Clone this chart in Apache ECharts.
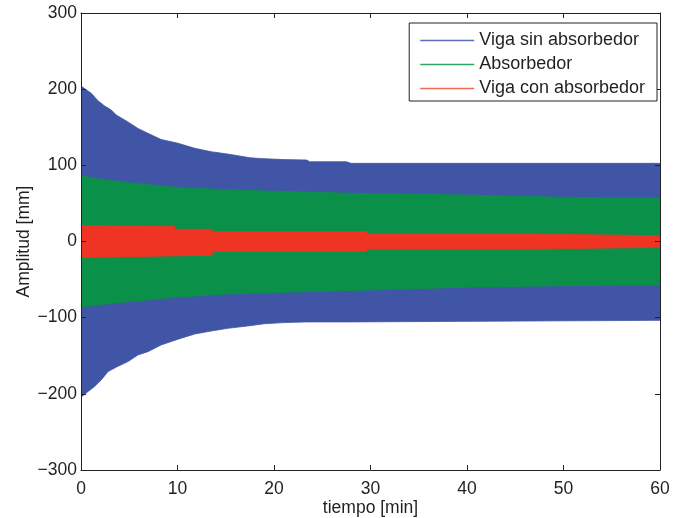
<!DOCTYPE html>
<html><head><meta charset="utf-8">
<script src="https://cdn.jsdelivr.net/npm/echarts@6/dist/echarts.min.js"></script>
<style>html,body{margin:0;padding:0;background:#fff}#c{width:676px;height:518px}</style>
</head><body><div id="c"></div>
<script>
const seriesNames = ['Viga sin absorbedor', 'Absorbedor', 'Viga con absorbedor'];
const xTicks = [0, 10, 20, 30, 40, 50, 60];
const yTicks = [-300, -200, -100, 0, 100, 200, 300];

// envelopes of the dense oscillations (time in min, amplitude in mm)
const blueUpperT = [0, 1.07, 1.76, 2.45, 3.14, 3.66, 4.87, 5.9, 6.94, 8.3, 10.05, 11.8, 13.5, 15.2, 17.5, 18.5, 21, 23.4, 23.7, 27.5, 28, 60];
const blueUpperV = [204, 194.5, 184.8, 177.8, 172.6, 166, 157, 148.5, 142, 134, 129, 122.3, 117.8, 114.8, 110, 109, 107.5, 107, 104.7, 104.7, 102.6, 102.6];
const blueLowerT = [0, 0.73, 1.4, 2.1, 2.8, 3.8, 4.87, 5.9, 6.94, 8.3, 10.05, 11.8, 13.5, 15.2, 17.5, 19, 21, 23.3, 27.8, 28, 60];
const blueLowerV = [-204.5, -197, -190.5, -181.8, -170.8, -164, -157.7, -149, -144.6, -135.8, -128.3, -121.4, -117.5, -114, -110.5, -108, -106.5, -105.6, -105.6, -103.5, -103.5];
const greenT = [0, 2, 5, 10, 15, 20, 29, 40, 50, 60];
const greenUpperV = [86, 82, 77, 71, 68, 66, 63, 61, 58, 57];
const greenLowerV = [-86, -83, -79, -73, -69, -67, -64, -60, -58, -57];
const redUpperT = [0, 9.7, 9.7, 13.6, 13.6, 29.6, 29.6, 46.5, 46.5, 60];
const redUpperV = [21, 20, 16, 16, 13, 13, 10, 10, 7.5, 7.5];
const redLowerT = [0, 4.5, 4.5, 13.6, 13.6, 29.6, 29.6, 46.5, 46.5, 60];
const redLowerV = [-21, -20, -18, -18, -13, -13, -10, -10, -7.7, -7.7];

const colors = ['#4055a5', '#0a9049', '#ef3423'];
const legendColors = ['#5a6fc0', '#2fa866', '#f26a5c'];
const zip = (t, v) => t.map((x, i) => [x, v[i]]);
const FONT = 'Liberation Sans, Arial, Helvetica, sans-serif';
const TXT = '#231f20';
const FS = 17.5;

function band(name, color, data) {
  return {
    name, type: 'line', data, symbol: 'none', showSymbol: false, silent: true,
    color,
    itemStyle: { color },
    lineStyle: { width: 0.8, color },
    areaStyle: { color, opacity: 1, origin: 0 },
    animation: false
  };
}

const chart = echarts.init(document.getElementById('c'), null, { renderer: 'canvas' });
const fmt = v => String(v).replace('-', '\u2212');
const axisLine = { show: true, onZero: false, lineStyle: { color: '#222', width: 1 } };
const tick = { show: true, inside: true, length: 5, lineStyle: { color: '#222' } };

chart.setOption({
  animation: false,
  backgroundColor: '#fff',
  grid: { left: 81, right: 16, top: 13, bottom: 48, containLabel: false, outerBoundsMode: 'none' },
  legend: {
    data: seriesNames.map((n, i) => ({
      name: n,
      icon: 'path://M0,0 L54,0 L54,1.4 L0,1.4 Z',
      itemStyle: { color: legendColors[i], borderColor: legendColors[i], borderWidth: 0 },
      lineStyle: { color: legendColors[i], width: 0 }
    })),
    orient: 'vertical',
    right: 19, top: 23,
    padding: [8, 12, 3, 11],
    itemGap: 5,
    itemWidth: 54, itemHeight: 1.4,
    backgroundColor: '#fff',
    borderColor: '#222', borderWidth: 1, borderRadius: 0,
    textStyle: { fontFamily: FONT, fontSize: 18, color: TXT, lineHeight: 19 },
    selectedMode: false,
    z: 20
  },
  xAxis: [
    { type: 'value', min: 0, max: 60, interval: 10, position: 'bottom', z: 10,
      axisLine, axisTick: tick, splitLine: { show: false },
      axisLabel: { fontFamily: FONT, fontSize: FS, color: TXT, margin: 10 },
      name: 'tiempo [min]', nameLocation: 'middle', nameGap: 29, nameMoveOverlap: false,
      nameTextStyle: { fontFamily: FONT, fontSize: FS, color: TXT } },
    { type: 'value', min: 0, max: 60, interval: 10, position: 'top', z: 10,
      axisLine, axisTick: tick, splitLine: { show: false }, axisLabel: { show: false } }
  ],
  yAxis: [
    { type: 'value', min: -300, max: 300, interval: 100, position: 'left', z: 10,
      axisLine, axisTick: tick, splitLine: { show: false },
      axisLabel: { fontFamily: FONT, fontSize: FS, color: TXT, margin: 4, formatter: fmt },
      name: 'Amplitud [mm]', nameLocation: 'middle', nameGap: 48, nameMoveOverlap: false,
      nameTextStyle: { fontFamily: FONT, fontSize: FS, color: TXT } },
    { type: 'value', min: -300, max: 300, interval: 100, position: 'right', z: 10,
      axisLine, axisTick: tick, splitLine: { show: false }, axisLabel: { show: false } }
  ],
  series: [
    band(seriesNames[0], colors[0], zip(blueUpperT, blueUpperV)),
    band(seriesNames[0], colors[0], zip(blueLowerT, blueLowerV)),
    band(seriesNames[1], colors[1], zip(greenT, greenUpperV)),
    band(seriesNames[1], colors[1], zip(greenT, greenLowerV)),
    band(seriesNames[2], colors[2], zip(redUpperT, redUpperV)),
    band(seriesNames[2], colors[2], zip(redLowerT, redLowerV))
  ]
});
</script></body></html>
